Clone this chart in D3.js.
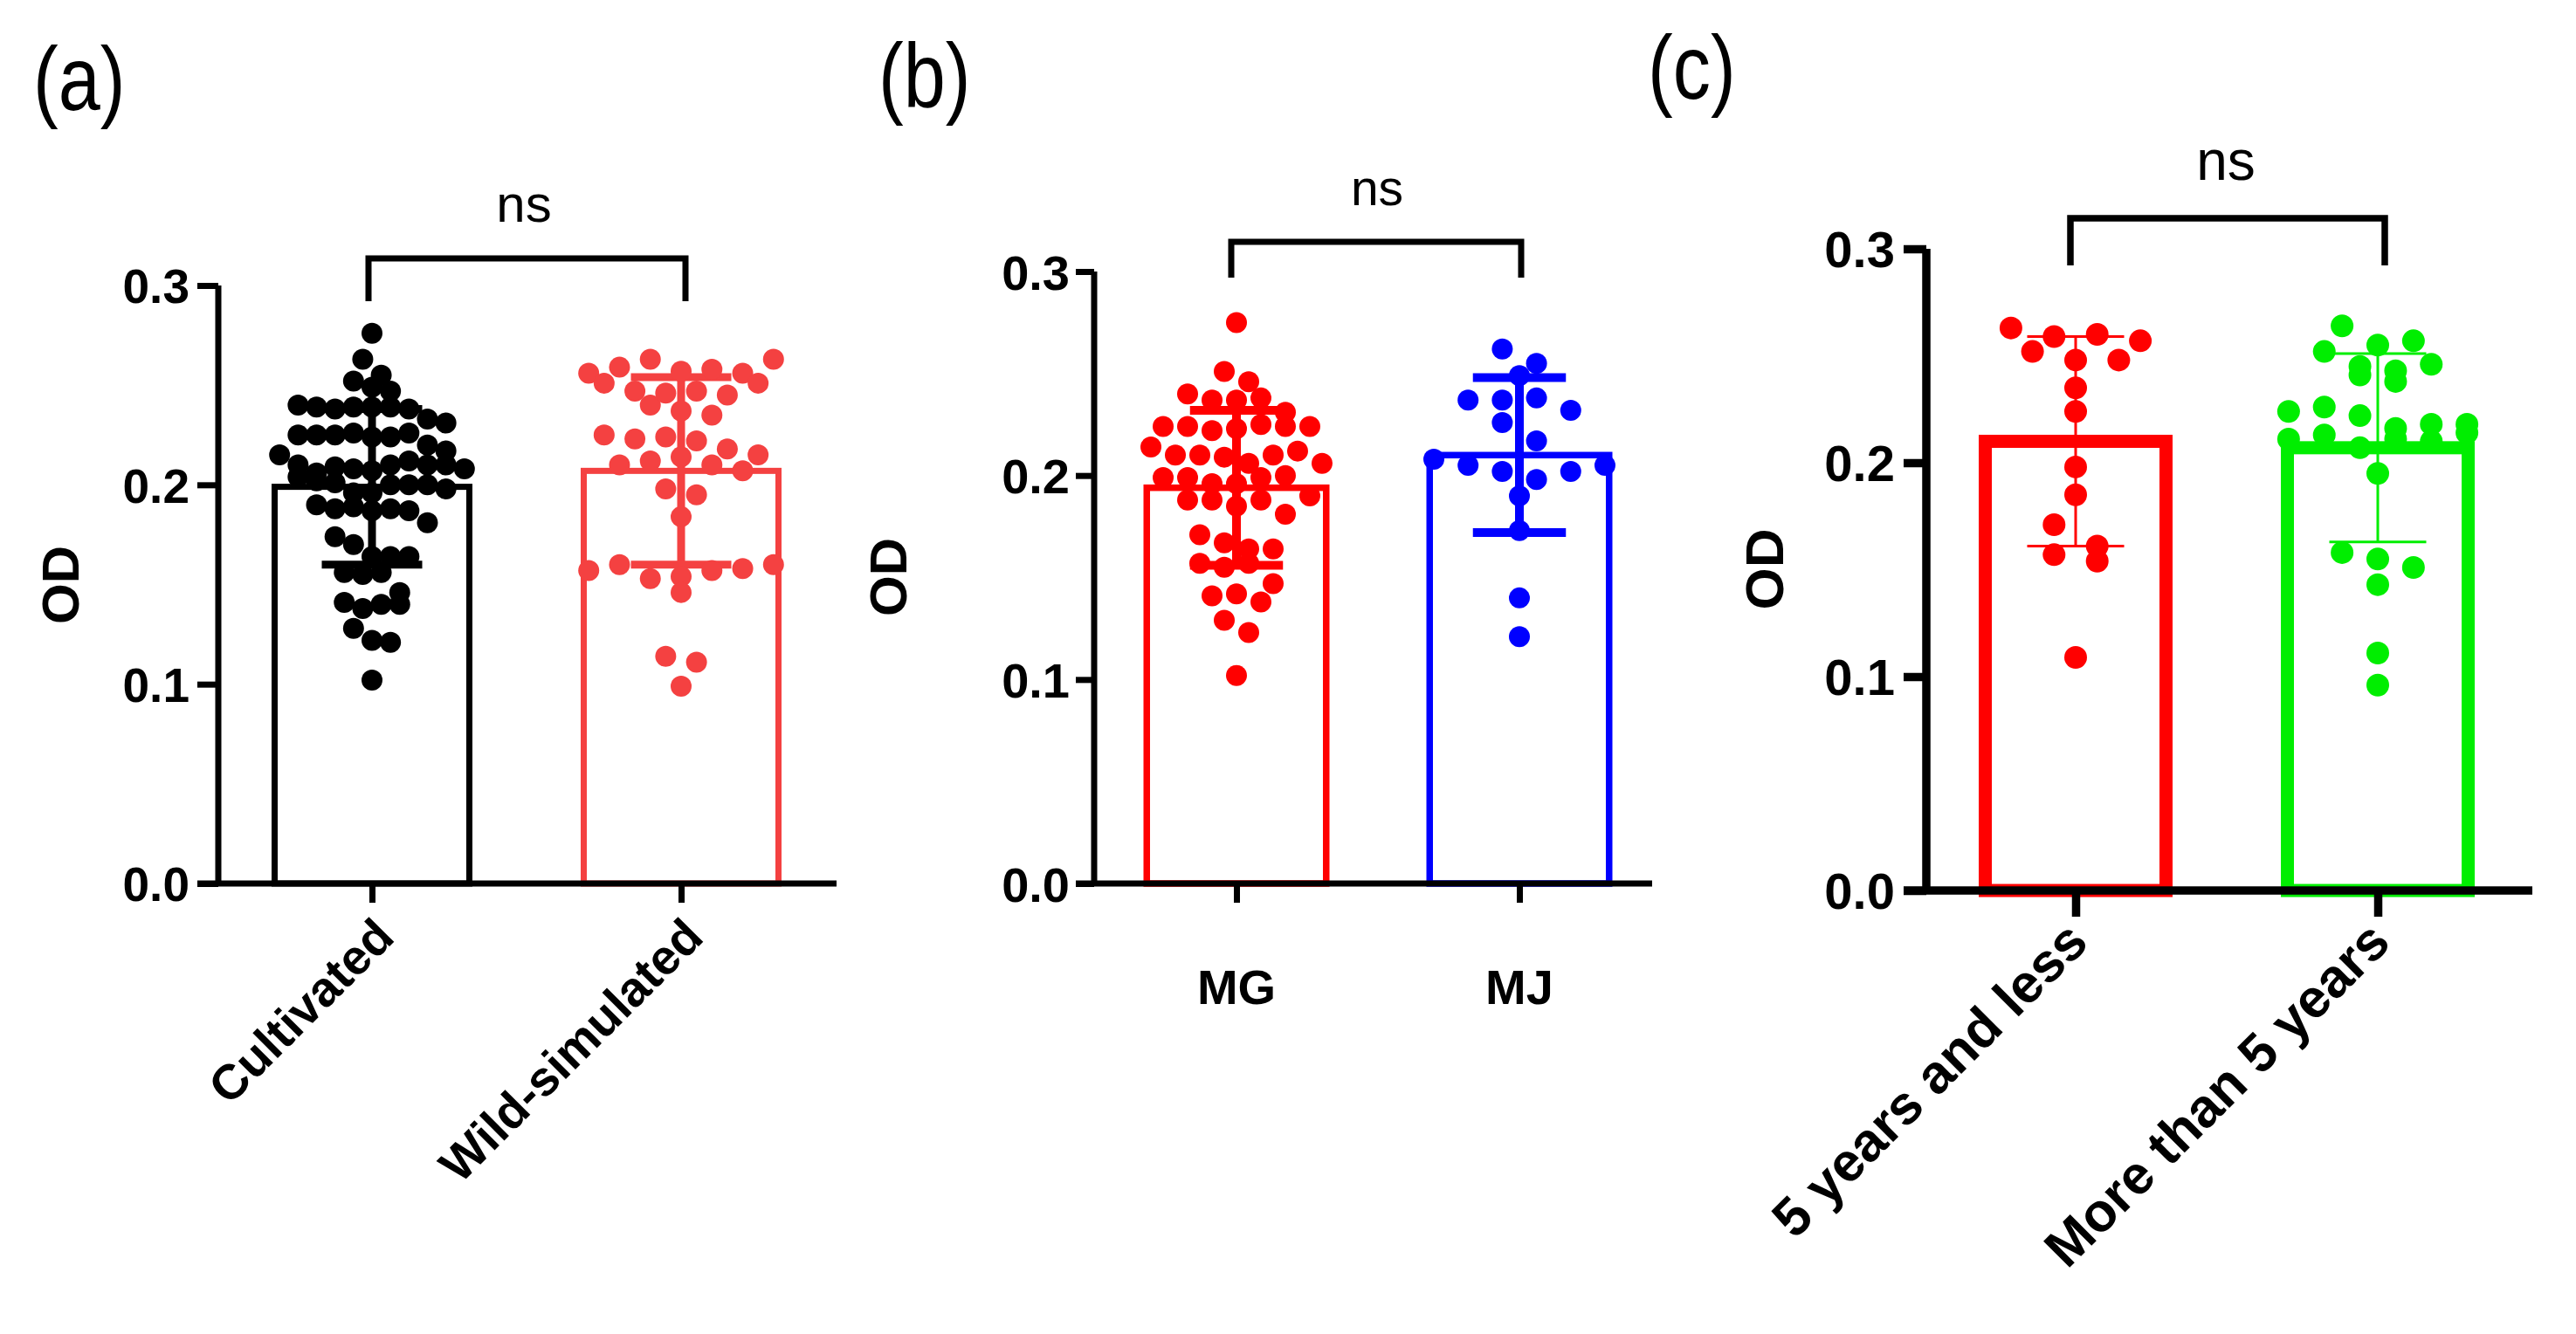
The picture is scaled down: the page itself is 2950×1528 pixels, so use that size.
<!DOCTYPE html>
<html><head><meta charset="utf-8">
<script src="https://cdn.jsdelivr.net/npm/d3@7"></script>
<style>body{margin:0;background:#fff} svg{display:block}</style>
</head><body>
<svg id="chart" width="2950" height="1528"></svg>
<script>
// ---------- DATA ----------
const panelTitles = ["(a)", "(b)", "(c)"];
const yTickValues = [0.0, 0.1, 0.2, 0.3];
const yAxisTitle = "OD";
const significance = ["ns", "ns", "ns"];

const categoriesA = ["Cultivated", "Wild-simulated"];
const meansA = [0.199, 0.207];
const sdsA = [0.039, 0.047];
const cultivated = [0.276, 0.263, 0.255, 0.252, 0.249, 0.247,
  0.240, 0.239, 0.238, 0.239, 0.239, 0.239, 0.238, 0.233, 0.231,
  0.225, 0.225, 0.225, 0.226, 0.224, 0.224, 0.226, 0.220, 0.217,
  0.215, 0.210, 0.206, 0.209, 0.208, 0.207, 0.210, 0.212, 0.210, 0.210, 0.208, 0.204, 0.202,
  0.201, 0.196, 0.196, 0.200, 0.200, 0.200, 0.198,
  0.190, 0.188, 0.189, 0.187, 0.188, 0.187, 0.181, 0.174, 0.170,
  0.164, 0.164, 0.164, 0.156, 0.155, 0.156,
  0.146, 0.141, 0.138, 0.140, 0.140, 0.128, 0.122, 0.121, 0.102];
const wildSimulated = [0.256, 0.259, 0.251, 0.263, 0.257, 0.258, 0.256, 0.263,
  0.247, 0.240, 0.246, 0.247, 0.245, 0.251, 0.237, 0.235, 0.225,
  0.223, 0.224, 0.222, 0.218, 0.215, 0.210, 0.212, 0.214, 0.210, 0.207,
  0.198, 0.195, 0.184,
  0.157, 0.160, 0.153, 0.154, 0.157, 0.158, 0.160, 0.146,
  0.114, 0.111, 0.099];

const categoriesB = ["MG", "MJ"];
const meansB = [0.194, 0.210];
const sdsB = [0.038, 0.038];
const mg = [0.275, 0.251, 0.246, 0.240, 0.237, 0.237, 0.238, 0.231,
  0.224, 0.224, 0.222, 0.223, 0.225, 0.224, 0.224,
  0.214, 0.210, 0.210, 0.209, 0.206, 0.210, 0.212, 0.206,
  0.199, 0.199, 0.196, 0.196, 0.199, 0.200,
  0.188, 0.188, 0.185, 0.188, 0.190, 0.181,
  0.171, 0.167, 0.164, 0.164, 0.157, 0.155, 0.157, 0.147,
  0.141, 0.142, 0.138, 0.129, 0.123, 0.102];
const mj = [0.262, 0.255, 0.249, 0.237, 0.237, 0.238, 0.232, 0.226, 0.217,
  0.208, 0.205, 0.202, 0.198, 0.202, 0.205, 0.190, 0.173, 0.140, 0.121];

const categoriesC = ["5 years and less", "More than 5 years"];
const meansC = [0.210, 0.207];
const sdsC = [0.049, 0.044];
const fiveYearsAndLess = [0.263, 0.259, 0.260, 0.257, 0.252, 0.248, 0.248,
  0.235, 0.224, 0.198, 0.185, 0.171, 0.157, 0.154, 0.161, 0.109];
const moreThanFiveYears = [0.264, 0.255, 0.252, 0.257,
  0.245, 0.241, 0.243, 0.238, 0.246,
  0.224, 0.226, 0.222, 0.216, 0.218, 0.218,
  0.211, 0.213, 0.207, 0.211, 0.210, 0.214,
  0.195, 0.158, 0.155, 0.151, 0.143, 0.111, 0.096];

// ---------- LAYOUT ----------
const FONT = "'Liberation Sans', Arial, Helvetica, sans-serif";
const panels = [
  { title: panelTitles[0], titleX: 38, titleY: 126,
    cats: categoriesA, means: meansA, sds: sdsA, groups: [cultivated, wildSimulated],
    colors: ["#000000", "#f44141"],
    axisX: 250, y0: 1012, yTop: 327, xEnd: 958, cx: [426, 780], barOuter: 230, barStroke: 7,
    axisW: 7, tickLen: 24, tickPad: 9, catTick: 22, errW: 9, dotR: 12, font: 55, labFont: 56,
    brY: 296, brLeg: 345, brX: [422, 785], brW: 7, nsX: 600, nsY: 254, nsFont: 60,
    odX: 68, odY: 670, odFont: 60, rotate: true, labDX: 28, labDY: 64, sig: significance[0] },
  { title: panelTitles[1], titleX: 1006, titleY: 122,
    cats: categoriesB, means: meansB, sds: sdsB, groups: [mg, mj],
    colors: ["#ff0000", "#0000ff"],
    axisX: 1253, y0: 1012, yTop: 311, xEnd: 1892, cx: [1416, 1740], barOuter: 213, barStroke: 7.5,
    axisW: 7, tickLen: 21, tickPad: 7, catTick: 22, errW: 10, dotR: 12, font: 56, labFont: 56,
    brY: 277, brLeg: 318, brX: [1410, 1742], brW: 7, nsX: 1577, nsY: 235, nsFont: 57,
    odX: 1016, odY: 661, odFont: 60, rotate: false, labY: 1150, sig: significance[1] },
  { title: panelTitles[2], titleX: 1887, titleY: 113,
    cats: categoriesC, means: meansC, sds: sdsC, groups: [fiveYearsAndLess, moreThanFiveYears],
    colors: ["#ff0000", "#00ee00"],
    axisX: 2206, y0: 1020, yTop: 285, xEnd: 2900, cx: [2377, 2723], barOuter: 222, barStroke: 15,
    axisW: 9.5, tickLen: 26, tickPad: 10, catTick: 30, errW: 3, dotR: 13, font: 58, labFont: 62,
    brY: 250, brLeg: 304, brX: [2371, 2731], brW: 7.5, nsX: 2549, nsY: 206, nsFont: 64,
    odX: 2020, odY: 652, odFont: 62, rotate: true, labDX: 17, labDY: 62, sig: significance[2] }
];

// Prism-like column scatter: points grouped into rows one dot-diameter tall,
// each row spread symmetrically about the column centre.
function swarm(values, y, r, spreadW, cap) {
  const d = 2 * r;
  const pts = values.map((v, i) => ({ v, i, py: y(v), dx: 0 }));
  const sorted = pts.slice().sort((a, b) => a.py - b.py);
  const rows = [];
  let cur = null;
  sorted.forEach(p => {
    if (!cur || p.py - cur.start >= d) { cur = { start: p.py, items: [] }; rows.push(cur); }
    cur.items.push(p);
  });
  const maxN = d3.max(rows, rw => rw.items.length);
  const step = maxN > 1 ? Math.min(cap, spreadW / (maxN - 1)) : 0;
  rows.forEach(rw => {
    rw.items.sort((a, b) => a.i - b.i);
    const n = rw.items.length;
    rw.items.forEach((p, j) => { p.dx = (j - (n - 1) / 2) * step; });
  });
  return pts;
}

const svg = d3.select("#chart");
svg.append("rect").attr("width", 2950).attr("height", 1528).attr("fill", "#fff");

panels.forEach(P => {
  const g = svg.append("g");
  const y = d3.scaleLinear().domain([0, 0.3]).range([P.y0, P.yTop]);
  const x = d3.scalePoint().domain(P.cats).range(P.cx);
  const bw = P.barOuter - P.barStroke;

  // panel title
  g.append("text").text(P.title)
    .attr("transform", `translate(${P.titleX},${P.titleY}) scale(0.83,1)`)
    .attr("font-family", FONT).attr("font-size", 104).attr("fill", "#000");

  // bars
  g.selectAll("rect.bar").data(P.cats).enter().append("rect")
    .attr("x", c => x(c) - bw / 2)
    .attr("y", (c, i) => y(P.means[i]))
    .attr("width", bw)
    .attr("height", (c, i) => y(0) - y(P.means[i]))
    .attr("fill", "none")
    .attr("stroke", (c, i) => P.colors[i])
    .attr("stroke-width", P.barStroke);

  // error bars (mean ± SD)
  P.cats.forEach((c, i) => {
    const cxp = x(c), capW = P.barOuter * 0.5;
    const hi = y(P.means[i] + P.sds[i]), lo = y(P.means[i] - P.sds[i]);
    const eg = g.append("g").attr("stroke", P.colors[i]).attr("stroke-width", P.errW);
    eg.append("line").attr("x1", cxp).attr("x2", cxp).attr("y1", hi).attr("y2", lo);
    eg.append("line").attr("x1", cxp - capW / 2).attr("x2", cxp + capW / 2).attr("y1", hi).attr("y2", hi);
    eg.append("line").attr("x1", cxp - capW / 2).attr("x2", cxp + capW / 2).attr("y1", lo).attr("y2", lo);
  });

  // points
  P.cats.forEach((c, i) => {
    const pts = swarm(P.groups[i], y, P.dotR, P.barOuter * 0.92, P.dotR * 3.8);
    g.append("g").selectAll("circle").data(pts).enter().append("circle")
      .attr("cx", p => x(c) + p.dx)
      .attr("cy", p => p.py)
      .attr("r", P.dotR)
      .attr("fill", P.colors[i]);
  });

  // y axis
  const yAxis = d3.axisLeft(y).tickValues(yTickValues).tickFormat(d3.format(".1f"))
    .tickSizeInner(P.tickLen).tickSizeOuter(0).tickPadding(P.tickPad);
  const ya = g.append("g").attr("transform", `translate(${P.axisX},0)`).call(yAxis);
  ya.select(".domain").attr("stroke", "#000").attr("stroke-width", P.axisW)
    .attr("d", `M0,${P.y0}V${P.yTop}`);
  ya.selectAll(".tick line").attr("stroke", "#000").attr("stroke-width", P.axisW);
  ya.selectAll(".tick text").attr("font-family", FONT).attr("font-weight", "bold")
    .attr("font-size", P.font).attr("fill", "#000").attr("dy", "0.36em");

  // x axis
  const xAxis = d3.axisBottom(x).tickSizeInner(P.catTick).tickSizeOuter(0).tickFormat("");
  const xa = g.append("g").attr("transform", `translate(0,${P.y0})`).call(xAxis);
  xa.select(".domain").attr("stroke", "#000").attr("stroke-width", P.axisW)
    .attr("d", `M${P.axisX - P.tickLen},0H${P.xEnd}`);
  xa.selectAll(".tick line").attr("stroke", "#000").attr("stroke-width", P.axisW);

  // category labels
  P.cats.forEach(c => {
    const t = g.append("text").text(c)
      .attr("font-family", FONT).attr("font-weight", "bold")
      .attr("font-size", P.labFont).attr("fill", "#000");
    if (P.rotate) {
      t.attr("text-anchor", "end")
        .attr("transform", `translate(${x(c) + P.labDX},${P.y0 + P.labDY}) rotate(-45)`);
    } else {
      t.attr("text-anchor", "middle").attr("x", x(c)).attr("y", P.labY);
    }
  });

  // y axis title
  g.append("text").text(yAxisTitle)
    .attr("transform", `translate(${P.odX},${P.odY}) rotate(-90)`)
    .attr("text-anchor", "middle").attr("dy", "0.36em")
    .attr("font-family", FONT).attr("font-weight", "bold")
    .attr("font-size", P.odFont).attr("fill", "#000");

  // significance bracket
  g.append("path")
    .attr("d", `M${P.brX[0]},${P.brLeg}V${P.brY}H${P.brX[1]}V${P.brLeg}`)
    .attr("fill", "none").attr("stroke", "#000").attr("stroke-width", P.brW)
    .attr("stroke-linejoin", "miter");
  g.append("text").text(P.sig)
    .attr("x", P.nsX).attr("y", P.nsY).attr("text-anchor", "middle")
    .attr("font-family", FONT).attr("font-size", P.nsFont).attr("fill", "#000");
});
</script>
</body></html>
